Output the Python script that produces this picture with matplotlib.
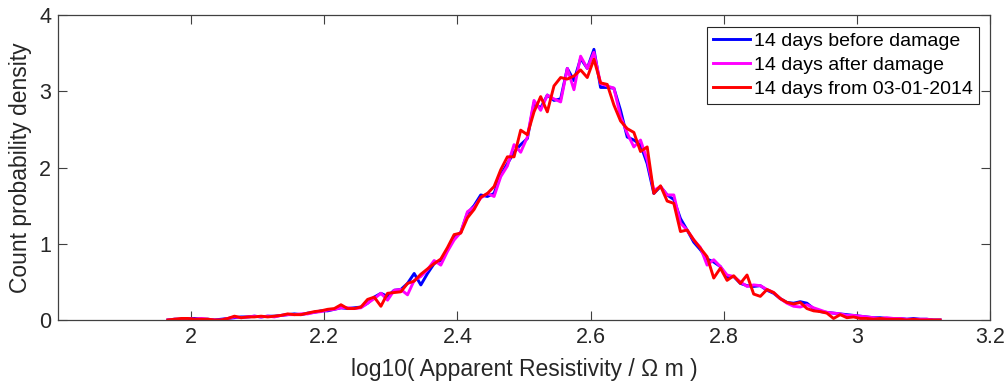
import numpy as np
import matplotlib
matplotlib.use("Agg")
import matplotlib.pyplot as plt

plt.rcParams['font.family'] = ['Liberation Sans', 'DejaVu Sans']

# Bin centres of log10(apparent resistivity), 0.01 wide
bin_centres = np.round(np.arange(1.965, 3.1251, 0.01), 3)

before_damage = [
    0.00, 0.01, 0.01, 0.02, 0.02, 0.01, 0.01, 0.00, 0.01, 0.02,
    0.03, 0.04, 0.04, 0.05, 0.04, 0.05, 0.05, 0.06, 0.07, 0.08,
    0.07, 0.09, 0.10, 0.12, 0.12, 0.14, 0.16, 0.15, 0.16, 0.17,
    0.22, 0.30, 0.35, 0.31, 0.39, 0.40, 0.48, 0.61, 0.46, 0.61,
    0.74, 0.78, 0.92, 1.08, 1.15, 1.40, 1.50, 1.64, 1.62, 1.66,
    1.90, 2.05, 2.20, 2.30, 2.38, 2.85, 2.78, 2.95, 2.88, 2.90,
    3.30, 3.14, 3.43, 3.30, 3.55, 3.05, 3.05, 3.04, 2.75, 2.40,
    2.36, 2.30, 2.05, 1.66, 1.75, 1.64, 1.58, 1.33, 1.18, 1.02,
    0.92, 0.80, 0.76, 0.70, 0.56, 0.57, 0.48, 0.45, 0.44, 0.45,
    0.39, 0.35, 0.28, 0.23, 0.22, 0.24, 0.22, 0.15, 0.11, 0.10,
    0.09, 0.08, 0.07, 0.06, 0.05, 0.04, 0.03, 0.03, 0.02, 0.02,
    0.02, 0.01, 0.02, 0.01, 0.01, 0.00, 0.00,
]

after_damage = [
    0.00, 0.01, 0.01, 0.02, 0.01, 0.02, 0.01, 0.00, 0.00, 0.02,
    0.04, 0.03, 0.04, 0.05, 0.04, 0.05, 0.04, 0.06, 0.07, 0.07,
    0.08, 0.08, 0.10, 0.11, 0.13, 0.14, 0.16, 0.16, 0.15, 0.16,
    0.22, 0.28, 0.35, 0.26, 0.39, 0.40, 0.33, 0.52, 0.57, 0.66,
    0.78, 0.72, 0.90, 1.05, 1.15, 1.42, 1.48, 1.60, 1.66, 1.62,
    1.88, 2.02, 2.30, 2.20, 2.40, 2.88, 2.75, 2.95, 2.90, 2.86,
    3.30, 3.02, 3.46, 3.30, 3.51, 3.10, 3.07, 3.04, 2.67, 2.45,
    2.27, 2.36, 2.10, 1.70, 1.75, 1.64, 1.64, 1.27, 1.18, 1.05,
    0.95, 0.72, 0.79, 0.70, 0.59, 0.57, 0.50, 0.44, 0.46, 0.45,
    0.40, 0.36, 0.28, 0.22, 0.18, 0.17, 0.20, 0.16, 0.13, 0.10,
    0.09, 0.08, 0.06, 0.06, 0.05, 0.04, 0.03, 0.02, 0.03, 0.02,
    0.02, 0.01, 0.01, 0.01, 0.01, 0.00, 0.00,
]

from_2014_01_03 = [
    0.00, 0.01, 0.02, 0.02, 0.01, 0.01, 0.01, 0.00, 0.00, 0.02,
    0.05, 0.03, 0.04, 0.04, 0.05, 0.04, 0.05, 0.06, 0.08, 0.07,
    0.07, 0.09, 0.11, 0.12, 0.14, 0.15, 0.20, 0.15, 0.15, 0.17,
    0.27, 0.30, 0.18, 0.35, 0.36, 0.37, 0.48, 0.51, 0.60, 0.67,
    0.74, 0.80, 0.95, 1.12, 1.14, 1.34, 1.45, 1.61, 1.66, 1.75,
    1.97, 2.14, 2.14, 2.49, 2.43, 2.73, 2.93, 2.73, 3.07, 3.18,
    3.16, 3.20, 3.28, 3.18, 3.42, 3.11, 3.09, 2.82, 2.61, 2.51,
    2.46, 2.21, 2.27, 1.66, 1.76, 1.56, 1.53, 1.16, 1.18, 1.05,
    0.94, 0.83, 0.55, 0.68, 0.52, 0.58, 0.48, 0.59, 0.34, 0.31,
    0.40, 0.36, 0.28, 0.23, 0.21, 0.23, 0.15, 0.12, 0.11, 0.09,
    0.02, 0.07, 0.03, 0.04, 0.02, 0.02, 0.01, 0.02, 0.01, 0.01,
    0.01, 0.00, 0.01, 0.00, 0.00, 0.00, 0.00,
]

series_labels = ["14 days before damage", "14 days after damage",
                 "14 days from 03-01-2014"]
series_colors = ["#0000ff", "#ff00ff", "#ff0000"]

x_ticks = [2.0, 2.2, 2.4, 2.6, 2.8, 3.0, 3.2]
x_tick_labels = ["2", "2.2", "2.4", "2.6", "2.8", "3", "3.2"]
y_ticks = [0, 1, 2, 3, 4]

fig = plt.figure(figsize=(10.06, 3.89), dpi=100)
ax = fig.add_axes([0.0577, 0.1774, 0.9264, 0.7840])

for values, label, color in zip(
        [before_damage, after_damage, from_2014_01_03],
        series_labels, series_colors):
    ax.plot(bin_centres, values, color=color, lw=2.1, label=label)

ax.set_xlim(1.8, 3.2)
ax.set_ylim(0, 4)
ax.set_xticks(x_ticks)
ax.set_xticklabels(x_tick_labels)
ax.set_yticks(y_ticks)

axis_grey = "#262626"
for spine in ax.spines.values():
    spine.set_color("#404040")
    spine.set_linewidth(0.9)
ax.tick_params(direction="in", length=6.5, width=0.8, colors="#404040",
               labelcolor=axis_grey, labelsize=15.5, top=True, right=True,
               pad=5)

ax.set_xlabel("log10( Apparent Resistivity / \u03a9 m )", fontsize=16.5,
              color=axis_grey, labelpad=7)
ax.set_ylabel("Count probability density", fontsize=16.5, color=axis_grey,
              labelpad=5)

leg = ax.legend(loc="upper right", bbox_to_anchor=(0.988, 0.962),
                fontsize=14, frameon=True, fancybox=False, framealpha=1,
                handlelength=1.9, handletextpad=0.2, borderpad=0.3,
                labelspacing=0.32, borderaxespad=0.0)
leg.get_frame().set_edgecolor("#262626")
leg.get_frame().set_linewidth(0.8)
for text in leg.get_texts():
    text.set_color("#000000")

fig.savefig("out.png", dpi=100)
